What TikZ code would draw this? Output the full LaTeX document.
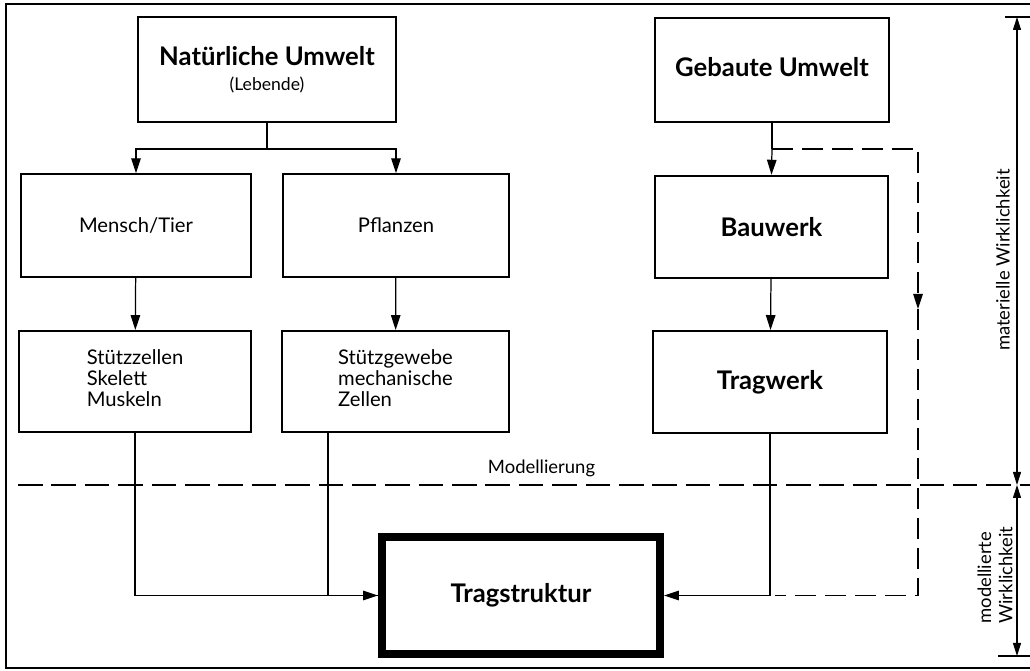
\documentclass[tikz,border=0pt]{standalone}
\usepackage{fontspec}
\setmainfont{Lato}
\usetikzlibrary{arrows.meta}
\tikzstyle{box} = [draw, line width=1.1pt, inner sep=0pt, align=center, minimum height=2.05cm]
\tikzstyle{arrow} = [line width=0.7pt, -{Triangle[length=3mm, width=1.9mm]}]
\tikzstyle{link} = [line width=0.7pt]
\tikzstyle{dashline} = [line width=0.7pt, dash pattern=on 12pt off 5pt]
\tikzstyle{dim} = [line width=0.6pt, {Triangle[length=2.6mm, width=1.6mm]}-{Triangle[length=2.6mm, width=1.6mm]}]
\newcommand{\bigbf}{\fontsize{14.6}{17}\selectfont\bfseries}
\newcommand{\plain}{\fontsize{11.5}{12.6}\selectfont}

\begin{document}
\begin{tikzpicture}
    \useasboundingbox[fill=white] (0,0) rectangle (20.6,13.42);
    % frame, open to the right
    \draw[line width=0.8pt] (20.6,13.34) -- (0.12,13.34) -- (0.12,0.06) -- (20.6,0.06);

    % upper row
    \node[box, minimum width=5.16cm, minimum height=2.1cm] (nat) at (5.34,12.03)
      {{\bigbf Natürliche Umwelt}\\[2pt]{\fontsize{10}{11}\selectfont (Lebende)}};
    \node[box, minimum width=4.68cm, minimum height=2.08cm, text depth=0.12cm] (geb) at (15.44,12.02)
      {\bigbf Gebaute Umwelt};

    % middle row
    \node[box, minimum width=4.6cm] (mensch) at (2.72,8.91) {\plain Mensch/Tier};
    \node[box, minimum width=4.52cm] (pfl) at (7.92,8.91) {\plain Pflanzen};
    \node[box, minimum width=4.66cm] (bau) at (15.43,8.88) {\bigbf Bauwerk};

    % lower row
    \node[box, minimum width=4.64cm, minimum height=2.02cm] (stz) at (2.7,5.79)
      {\begin{tabular}{@{}l@{}}\plain Stützzellen\\ \plain Skelett\\ \plain Muskeln\end{tabular}};
    \node[box, minimum width=4.54cm, minimum height=2.02cm] (stg) at (7.91,5.79)
      {\begin{tabular}{@{}l@{}}\plain Stützgewebe\\ \plain mechanische\\ \plain Zellen\end{tabular}};
    \node[box, minimum width=4.68cm, minimum height=2.04cm] (trw) at (15.4,5.78) {\bigbf Tragwerk};

    % model
    \node[box, line width=4.5pt, minimum width=5.56cm, minimum height=2.34cm] (tst) at (10.42,1.51)
      {\bigbf Tragstruktur};

    % connectors
    \draw[link] (nat.south) -- ++(0,-0.52) coordinate (nsplit);
    \draw[arrow] (nsplit) -| (mensch.north);
    \draw[arrow] (nsplit) -| (pfl.north);
    \draw[arrow] (mensch) -- (stz);
    \draw[arrow] (pfl) -- (stg);
    \draw[link] (geb.south) -- ++(0,-0.52) coordinate (gsplit);
    \draw[arrow] (gsplit) -- (bau.north);
    \draw[arrow] (bau) -- (trw);
    \draw[arrow] (stz.south) |- (tst.west);
    \draw[link] ([xshift=-1.35cm]stg.south) |- (tst.west);
    \draw[arrow] (trw.south) |- (tst.east);
    \draw[dashline, -{Triangle[length=3mm, width=1.9mm]}] (gsplit) -| ++(2.92,-3.2) coordinate (gdown);
    \draw[dashline] (gdown) |- ([xshift=0.1cm]trw.south |- tst.east);

    % modelling border
    \draw[dashline, dash pattern=on 14pt off 5pt] (0.36,3.72) -- (20.6,3.72);
    \node[font=\fontsize{10.5}{12}\selectfont] (modl) at (10.83,4.06) {Modellierung};

    % reality ranges
    \coordinate (dtop) at (20.34,13.08);
    \coordinate (dmid) at (20.34,3.72);
    \coordinate (dbot) at (20.34,0.3);
    \draw[line width=0.6pt] (20.1,13.08) -- (20.6,13.08);
    \draw[line width=0.6pt] (19.96,0.3) -- (20.6,0.3);
    \draw[dim] (dtop) -- (dmid);
    \draw[dim] (dmid) -- (dbot);
    \node[rotate=90, font=\fontsize{10.5}{12}\selectfont] (mat) at (20.06,8.22) {materielle Wirklichkeit};
    \node[rotate=90, align=left, font=\fontsize{10.5}{12}\selectfont] (modw) at (19.9,1.92)
      {modellierte\\Wirklichkeit};
\end{tikzpicture}
\end{document}
